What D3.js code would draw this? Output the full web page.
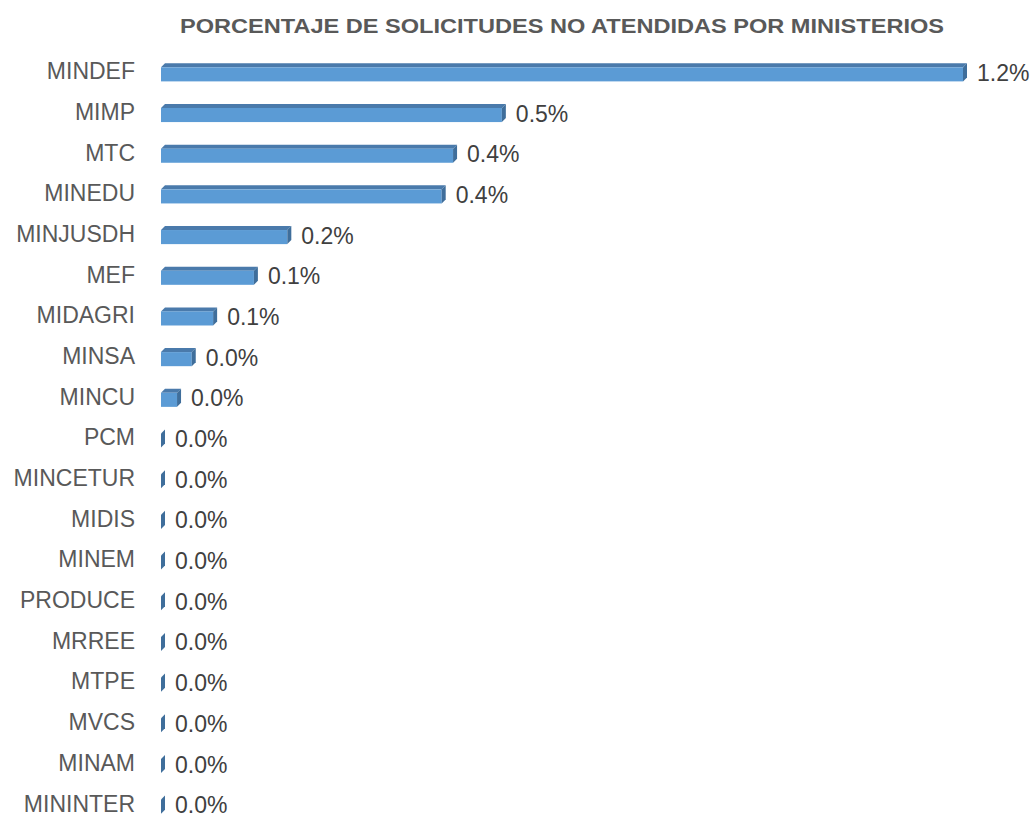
<!DOCTYPE html>
<html>
<head>
<meta charset="utf-8">
<script src="https://cdn.jsdelivr.net/npm/d3@7"></script>
<style>
  body { margin: 0; background: #fff; }
  text { font-family: "Liberation Sans", Arial, sans-serif; }
</style>
</head>
<body>
<div class="chart"></div>
<script>
var svgWidth = 1032;
var svgHeight = 817;

var titleText = "PORCENTAJE DE SOLICITUDES NO ATENDIDAS POR MINISTERIOS";

// categories, top to bottom
var ministerios = ["MINDEF", "MIMP", "MTC", "MINEDU", "MINJUSDH", "MEF", "MIDAGRI", "MINSA",
  "MINCU", "PCM", "MINCETUR", "MIDIS", "MINEM", "PRODUCE", "MRREE", "MTPE", "MVCS", "MINAM", "MININTER"];

// share of requests not attended (fraction)
var porcentajes = [0.0120, 0.0051, 0.00437, 0.0042, 0.00189, 0.00139, 0.00078, 0.00046,
  0.00024, 0, 0, 0, 0, 0, 0, 0, 0, 0, 0];

var data = ministerios.map(function (m, i) {
  return { name: m, value: porcentajes[i] };
});

// 3d depth of the bars
var depthX = 4;
var depthY = 4;

var svg = d3.select(".chart")
  .append("svg")
  .attr("width", svgWidth)
  .attr("height", svgHeight);

svg.append("text")
  .attr("x", 562)
  .attr("y", 33)
  .attr("text-anchor", "middle")
  .attr("font-size", "21px")
  .attr("font-weight", "bold")
  .attr("fill", "#595959")
  .attr("textLength", 764)
  .attr("lengthAdjust", "spacingAndGlyphs")
  .text(titleText);

var xScale = d3.scaleLinear()
  .domain([0, 0.012])
  .range([161, 963]);

var yScale = d3.scaleBand()
  .domain(ministerios)
  .range([51.5, 824.5])
  .paddingInner(0.58)
  .paddingOuter(0.29);

var bh = yScale.bandwidth();

// category axis labels
var yAxis = d3.axisLeft(yScale).tickSize(0).tickPadding(0);
var yAxisG = svg.append("g")
  .attr("transform", "translate(135, 0)")
  .call(yAxis);
yAxisG.select(".domain").remove();
yAxisG.selectAll("text")
  .attr("font-size", "23px")
  .attr("font-family", "'Liberation Sans', Arial, sans-serif")
  .attr("fill", "#595959");

var bars = svg.append("g")
  .selectAll("g")
  .data(data)
  .enter()
  .append("g");

// top face
bars.append("path")
  .attr("fill", "#4a7aab")
  .attr("d", function (d) {
    var x0 = xScale(0), x1 = xScale(d.value), y0 = yScale(d.name) + depthY;
    return "M" + x0 + "," + y0 + "L" + (x0 + depthX) + "," + (y0 - depthY) +
      "L" + (x1 + depthX) + "," + (y0 - depthY) + "L" + x1 + "," + y0 + "Z";
  });

// front face
bars.append("rect")
  .attr("x", xScale(0))
  .attr("y", d => yScale(d.name) + depthY)
  .attr("width", d => xScale(d.value) - xScale(0))
  .attr("height", bh - depthY + 1)
  .attr("fill", "#5b9bd5");

// right side
bars.append("path")
  .attr("fill", "#3f6e9b")
  .attr("d", function (d) {
    var x1 = xScale(d.value), y0 = yScale(d.name) + depthY, y1 = yScale(d.name) + bh + 1;
    return "M" + x1 + "," + y0 + "L" + (x1 + depthX) + "," + (y0 - depthY) +
      "L" + (x1 + depthX) + "," + (y1 - depthY) + "L" + x1 + "," + y1 + "Z";
  });

// value labels
bars.append("text")
  .attr("x", d => xScale(d.value) + depthX + 10)
  .attr("y", d => yScale(d.name) + bh / 2 + 1)
  .attr("dy", "0.35em")
  .attr("font-size", "23px")
  .attr("fill", "#404040")
  .text(d => d3.format(".1%")(d.value));
</script>
</body>
</html>
